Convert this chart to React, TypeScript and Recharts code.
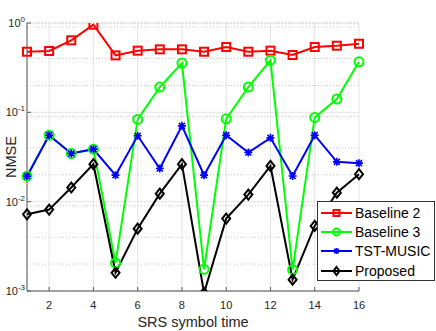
import React from 'react'
import {
  LineChart, Line, XAxis, YAxis, CartesianGrid, Legend,
} from 'recharts'

/* ── valores ── */
const symbolTimes = [1, 2, 3, 4, 5, 6, 7, 8, 9, 10, 11, 12, 13, 14, 15, 16]
const baseline2 = [0.477, 0.486, 0.64, 0.957, 0.434, 0.49, 0.507, 0.507, 0.477, 0.538, 0.477, 0.49, 0.438, 0.538, 0.557, 0.586]
const baseline3 = [0.0193, 0.0555, 0.0346, 0.0387, 0.00206, 0.0832, 0.192, 0.356, 0.00175, 0.0846, 0.192, 0.382, 0.00173, 0.0876, 0.141, 0.368]
const tstMusic = [0.0193, 0.0555, 0.0346, 0.0387, 0.0198, 0.0546, 0.0235, 0.0706, 0.0198, 0.0555, 0.0355, 0.0518, 0.0194, 0.0555, 0.0279, 0.027]
const proposed = [0.00722, 0.00815, 0.0144, 0.0263, 0.0016, 0.00499, 0.0123, 0.0263, 0.00095, 0.00646, 0.012, 0.0251, 0.00134, 0.00535, 0.0126, 0.0203]

const xTicks = [2, 4, 6, 8, 10, 12, 14, 16]
const yTicks = [0.001, 0.01, 0.1, 1]
const yMinorTicks = [
  0.002, 0.003, 0.004, 0.005, 0.006, 0.007, 0.008, 0.009,
  0.02, 0.03, 0.04, 0.05, 0.06, 0.07, 0.08, 0.09,
  0.2, 0.3, 0.4, 0.5, 0.6, 0.7, 0.8, 0.9,
]
const legendOrder = ['b2', 'b3', 'tst', 'prop']

const data = symbolTimes.map((t, i) => ({
  t,
  b2: baseline2[i],
  b3: baseline3[i],
  tst: tstMusic[i],
  prop: proposed[i],
}))

const FONT = '"Liberation Sans", Arial, Helvetica, sans-serif'
const TXT = '#262626'
const AXIS = '#5a5a5a'

/* ── marcadores estilo MATLAB ── */
function Marker({ kind, cx, cy, color, s = 4 }: { kind: string; cx: number; cy: number; color: string; s?: number }) {
  if (cx == null || cy == null) return null
  if (kind === 'square')
    return <rect x={cx - s} y={cy - s} width={2 * s} height={2 * s} fill="none" stroke={color} strokeWidth={2} />
  if (kind === 'circle')
    return <circle cx={cx} cy={cy} r={s + 0.5} fill="none" stroke={color} strokeWidth={2} />
  if (kind === 'diamond')
    return (
      <path
        d={`M${cx},${cy - s - 1}L${cx + s},${cy}L${cx},${cy + s + 1}L${cx - s},${cy}Z`}
        fill="none" stroke={color} strokeWidth={2}
      />
    )
  const d = s * 0.75
  return (
    <path
      d={`M${cx - s},${cy}H${cx + s}M${cx},${cy - s}V${cy + s}M${cx - d},${cy - d}L${cx + d},${cy + d}M${cx - d},${cy + d}L${cx + d},${cy - d}`}
      stroke={color} strokeWidth={1.6} fill="none"
    />
  )
}

const markerOf: Record<string, string> = { b2: 'square', b3: 'circle', tst: 'star', prop: 'diamond' }

function PowTick({ x, y, payload }: any) {
  const exp = Math.round(Math.log10(payload.value))
  return (
    <text x={x} y={y + 4} textAnchor="end" fontSize={11} fill={TXT} fontFamily={FONT}>
      10<tspan dy={-5} fontSize={8}>{exp}</tspan>
    </text>
  )
}

function LegendBox({ payload }: any) {
  const items = [...(payload || [])].sort(
    (a: any, b: any) => legendOrder.indexOf(a.dataKey) - legendOrder.indexOf(b.dataKey),
  )
  return (
    <div style={{
      width: 118, height: 80, boxSizing: 'border-box', border: '1px solid #333',
      background: '#fff', paddingTop: 1, fontFamily: FONT, fontSize: 14, color: '#000',
    }}>
      {items.map((p: any) => (
        <div key={p.value} style={{ height: 19.3, display: 'flex', alignItems: 'center' }}>
          <svg width={31} height={14} style={{ marginLeft: 3, marginRight: 3 }}>
            <line x1={0} y1={7} x2={31} y2={7} stroke={p.color} strokeWidth={2} />
            <Marker kind={markerOf[p.dataKey]} cx={15.5} cy={7} color={p.color} s={3} />
          </svg>
          <span style={{ whiteSpace: 'nowrap' }}>{p.value}</span>
        </div>
      ))}
    </div>
  )
}

function series(key: string, name: string, color: string) {
  return (
    <Line
      type="linear"
      dataKey={key}
      name={name}
      stroke={color}
      strokeWidth={2}
      isAnimationActive={false}
      dot={(p: any) => <Marker key={`${key}-${p.index}`} kind={markerOf[key]} cx={p.cx} cy={p.cy} color={color} />}
      activeDot={false}
    />
  )
}

export default function App() {
  return (
    <div style={{ position: 'absolute', left: 0, top: 0, background: '#fff' }}>
      <LineChart width={436} height={331} data={data} margin={{ top: 23, right: 77, bottom: 0, left: 0 }}>
        <CartesianGrid stroke="#e4e4e4" />
        <CartesianGrid yAxisId="minor" vertical={false} stroke="#c8c8c8" strokeDasharray="1 2" />
        <XAxis
          dataKey="t" type="number" domain={[1, 16]} ticks={xTicks} height={40}
          stroke={AXIS} tickSize={-4} tickMargin={14}
          tick={{ fontSize: 11, fill: TXT, fontFamily: FONT }}
          label={{ value: 'SRS symbol time', position: 'insideBottom', offset: 4, fontSize: 14.5, fill: TXT, fontFamily: FONT }}
        />
        <XAxis xAxisId="top" orientation="top" dataKey="t" type="number" domain={[1, 16]} ticks={xTicks}
          height={0} stroke={AXIS} tickSize={-4} tick={false} />
        <YAxis
          scale="log" domain={[0.001, 1]} ticks={yTicks} allowDataOverflow width={27}
          stroke={AXIS} tickSize={-4} tickMargin={6} tick={<PowTick />}
          label={{
            content: () => (
              <text transform="translate(15.5,157) rotate(-90)" textAnchor="middle" fontSize={14.5} fill={TXT} fontFamily={FONT}>
                NMSE
              </text>
            ),
          }}
        />
        <YAxis yAxisId="minor" hide scale="log" domain={[0.001, 1]} ticks={yMinorTicks} allowDataOverflow />
        <YAxis yAxisId="right" orientation="right" scale="log" domain={[0.001, 1]} ticks={yTicks} allowDataOverflow
          width={0} stroke={AXIS} tickSize={-4} tick={false} />
        {series('b2', 'Baseline 2', '#ff0000')}
        {series('b3', 'Baseline 3', '#00ff00')}
        {series('tst', 'TST-MUSIC', '#0000ff')}
        {series('prop', 'Proposed', '#000000')}
        <Legend
          layout="vertical" align="center" verticalAlign="middle"
          wrapperStyle={{ left: 317, top: 201, width: 118, height: 80 }}
          content={<LegendBox />}
        />
      </LineChart>
    </div>
  )
}
